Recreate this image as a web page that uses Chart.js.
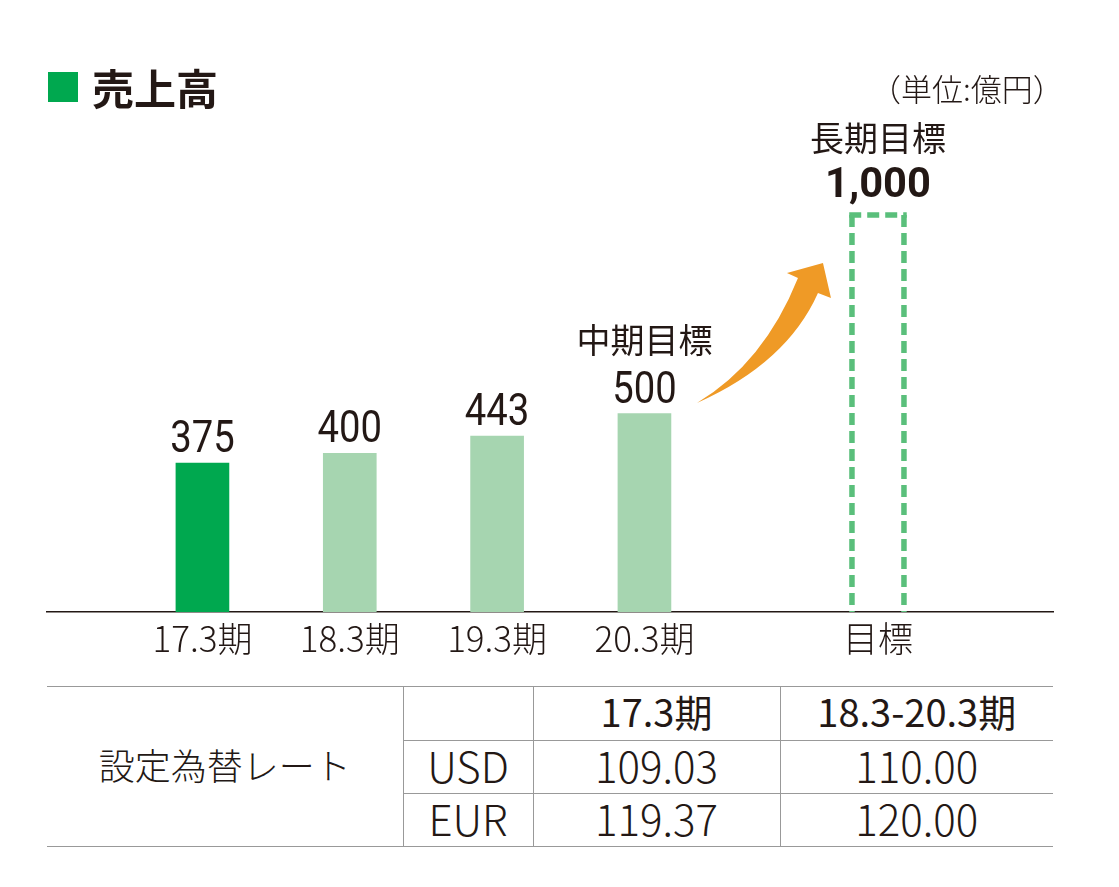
<!DOCTYPE html>
<html lang="ja">
<head>
<meta charset="utf-8">
<script src="https://cdn.jsdelivr.net/npm/chart.js@4.4.1/dist/chart.umd.min.js"></script>
<style>
  body { margin: 0; background: #fff; width: 1119px; height: 887px; position: relative; overflow: hidden;
         font-family: "Noto Sans CJK JP", "Noto Sans", sans-serif; color: #231815; }
  #c { position: absolute; left: 0; top: 0; }
  .sq { position: absolute; left: 48px; top: 72px; width: 30px; height: 30px; background: #00a84f; }
  .title { position: absolute; left: 92px; top: 60px; height: 54px; line-height: 54px; font-size: 42px; font-weight: 700; }
  .unit { position: absolute; left: 870px; top: 66px; height: 44px; line-height: 44px; font-size: 31px; font-weight: 300; }
  #rates { position: absolute; left: 47px; top: 686px; width: 1006px; border-collapse: collapse; table-layout: fixed; }
  #rates td { padding: 0 0 5px 0; text-align: center; vertical-align: middle; border: 1px solid #999; font-weight: 300; font-size: 42px; line-height: 1; }
  #rates tr:first-child td { border-top: 1.5px solid #999; }
  #rates tr:last-child td, #rates td.lbl { border-bottom: 1.5px solid #999; }
  #rates td.lbl { border-left: none; font-size: 36px; }
  #rates td:last-child { border-right: none; }
  #rates td.hd { font-weight: 400; font-size: 38px; }
  #rates td.cur { font-weight: 300; font-size: 42px; }
</style>
</head>
<body>
<canvas id="c" width="1119" height="660"></canvas>
<div class="sq"></div>
<div class="title">売上高</div>
<div class="unit">（単位:億円）</div>
<table id="rates"></table>
<script>
// sales (億円)
const periods = ['17.3期', '18.3期', '19.3期', '20.3期'];
const sales = [375, 400, 443, 500];
const targetName = '目標';
const targetSales = 1000;
const midLabel = '中期目標';
const longLabel = '長期目標';

// exchange rate table
const rateLabel = '設定為替レート';
const rateCols = ['17.3期', '18.3-20.3期'];
const currencies = ['USD', 'EUR'];
const usdRates = ['109.03', '110.00'];
const eurRates = ['119.37', '120.00'];

const targetGap = 1.585; // spacing between 20.3期 and the target column, in slots
const tickPos = periods.map((p, i) => i).concat([periods.length - 1 + targetGap]);
const tickText = periods.concat([targetName]);

const darkGreen = '#00a84f';
const lightGreen = '#a6d5b0';
const dashGreen = '#5abf7b';
const ink = '#231815';

function squeezeText(ctx, text, x, y, font, sx) {
  ctx.save();
  ctx.translate(x, y);
  ctx.scale(sx, 1);
  ctx.font = font;
  ctx.textAlign = 'center';
  ctx.textBaseline = 'alphabetic';
  ctx.fillText(text, 0, 0);
  ctx.restore();
}

const labelPlugin = {
  id: 'labels',
  afterDatasetsDraw(chart) {
    const ctx = chart.ctx;
    const bars = chart.getDatasetMeta(0).data;
    const tgt = chart.getDatasetMeta(1).data[0];
    ctx.save();

    // dashed target box
    const l = tgt.x - tgt.width / 2, r = tgt.x + tgt.width / 2;
    ctx.strokeStyle = dashGreen;
    ctx.lineWidth = 5.5;
    ctx.setLineDash([12, 6]);
    ctx.beginPath(); ctx.moveTo(l, tgt.y); ctx.lineTo(l, tgt.base); ctx.stroke();
    ctx.beginPath(); ctx.moveTo(r, tgt.y); ctx.lineTo(r, tgt.base); ctx.stroke();
    ctx.beginPath(); ctx.moveTo(l - 2.75, tgt.y); ctx.lineTo(r + 2.75, tgt.y); ctx.stroke();
    ctx.setLineDash([]);

    // value labels
    ctx.fillStyle = ink;
    bars.forEach((b, i) => squeezeText(ctx, String(sales[i]), b.x, b.y - 11, '45px Roboto', 0.85));
    const last = bars[bars.length - 1];
    ctx.font = '34px "Noto Sans CJK JP"';
    ctx.textAlign = 'center';
    ctx.textBaseline = 'middle';
    ctx.fillText(midLabel, last.x, last.y - 73);
    ctx.fillText(longLabel, tgt.x, tgt.y - 77);
    squeezeText(ctx, targetSales.toLocaleString('en-US'), tgt.x, tgt.y - 18, 'bold 43px Roboto', 0.97);

    // orange arrow
    const tx = last.x + 52.5, ty = last.y - 10.5;
    const px = tgt.x - 55, py = tgt.y + 48;
    ctx.fillStyle = '#ef9a26';
    ctx.beginPath();
    ctx.moveTo(tx, ty);
    ctx.quadraticCurveTo(tx + 67, ty - 40, px - 25, py + 15);
    ctx.lineTo(px - 36, py + 10);
    ctx.lineTo(px, py);
    ctx.lineTo(px + 8, py + 35);
    ctx.lineTo(px - 5, py + 30);
    ctx.quadraticCurveTo(tx + 90, ty - 40, tx, ty);
    ctx.closePath();
    ctx.fill();
    ctx.restore();
  }
};

new Chart(document.getElementById('c'), {
  type: 'bar',
  data: {
    datasets: [
      {
        data: sales.map((v, i) => ({ x: i, y: v })),
        backgroundColor: sales.map((v, i) => i === 0 ? darkGreen : lightGreen),
        barThickness: 53,
        borderWidth: 0
      },
      {
        data: [{ x: tickPos[tickPos.length - 1], y: targetSales }],
        backgroundColor: 'rgba(0,0,0,0)',
        barThickness: 52,
        borderWidth: 0
      }
    ]
  },
  options: {
    responsive: false,
    animation: false,
    grouped: false,
    layout: { padding: { left: 47, right: 66, top: 96, bottom: 0 } },
    plugins: { legend: { display: false }, tooltip: { enabled: false } },
    scales: {
      x: {
        type: 'linear',
        offset: false,
        min: -1.055,
        max: 5.773,
        afterBuildTicks: (scale) => { scale.ticks = tickPos.map(v => ({ value: v })); },
        afterFit: (scale) => { scale.height = 48; },
        grid: { display: true, drawOnChartArea: false, drawTicks: false },
        border: { display: true, color: ink, width: 1.5 },
        ticks: {
          autoSkip: false,
          maxRotation: 0,
          padding: 6,
          color: ink,
          font: { family: '"Noto Sans CJK JP"', size: 35, weight: '300' },
          callback: (v) => tickText[tickPos.indexOf(v)]
        }
      },
      y: { display: false, min: 0, max: 1300 }
    }
  },
  plugins: [labelPlugin]
});

// rate table
const table = document.getElementById('rates');
table.innerHTML =
  '<colgroup><col style="width:356px"><col style="width:130px"><col style="width:247px"><col style="width:273px"></colgroup>' +
  '<tr style="height:54px"><td class="lbl" rowspan="3">' + rateLabel + '</td><td></td>' +
  rateCols.map(c => '<td class="hd">' + c + '</td>').join('') + '</tr>' +
  '<tr style="height:53px"><td class="cur">' + currencies[0] + '</td>' + usdRates.map(v => '<td>' + v + '</td>').join('') + '</tr>' +
  '<tr style="height:53px"><td class="cur">' + currencies[1] + '</td>' + eurRates.map(v => '<td>' + v + '</td>').join('') + '</tr>';
</script>
</body>
</html>
